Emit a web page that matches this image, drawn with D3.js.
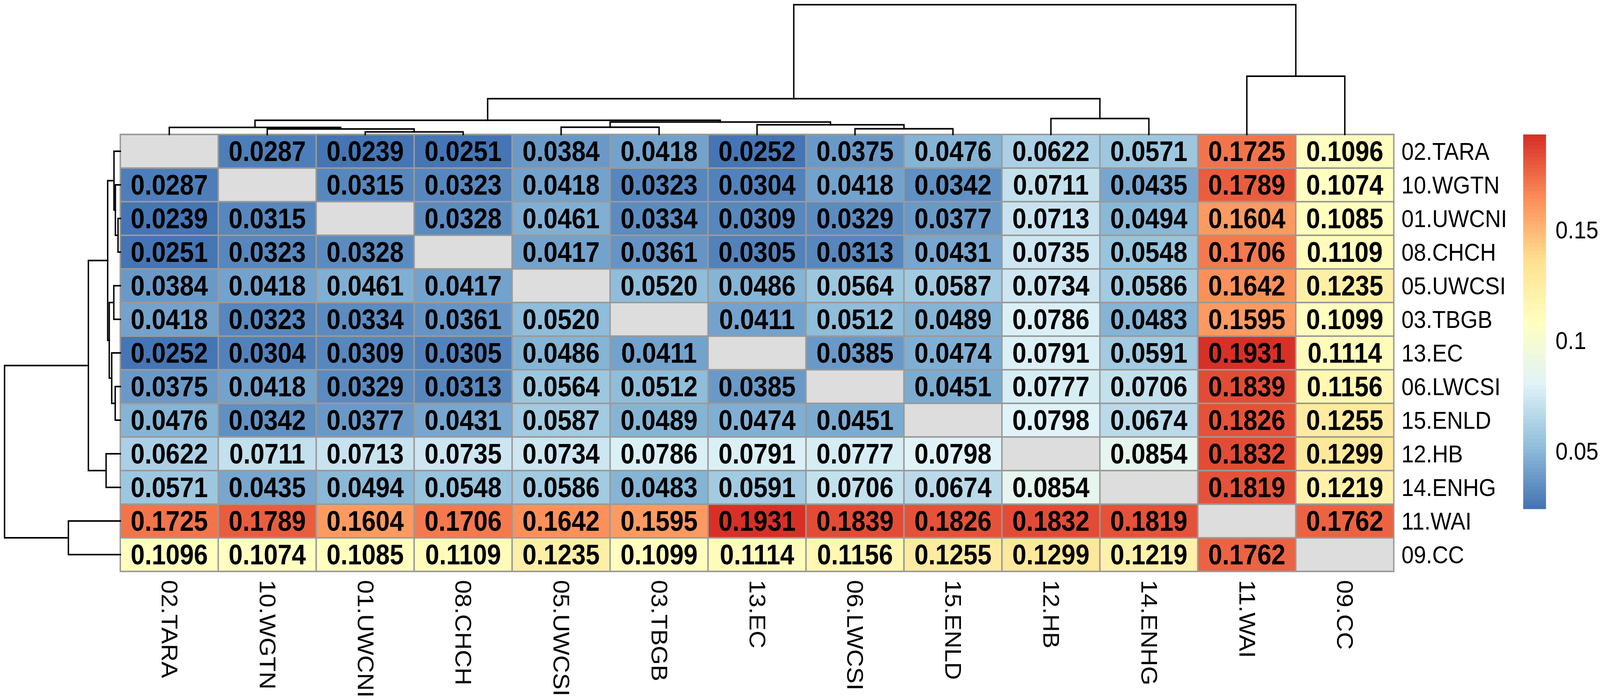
<!DOCTYPE html>
<html>
<head>
<meta charset="utf-8">
<script src="https://cdn.jsdelivr.net/npm/d3@7"></script>
<style>
html,body{margin:0;padding:0;background:#ffffff;overflow:hidden;width:100%;height:100%;}
svg{display:block;width:100vw;height:100vh;}
</style>
</head>
<body>
<script>
// ---------------- DATA ----------------
const sites = ["02.TARA","10.WGTN","01.UWCNI","08.CHCH","05.UWCSI","03.TBGB","13.EC","06.LWCSI","15.ENLD","12.HB","14.ENHG","11.WAI","09.CC"];

// pairwise values, rows in the same order as `sites` (null = diagonal / NA)
const fstRows = [
  [null,   0.0287, 0.0239, 0.0251, 0.0384, 0.0418, 0.0252, 0.0375, 0.0476, 0.0622, 0.0571, 0.1725, 0.1096],
  [0.0287, null,   0.0315, 0.0323, 0.0418, 0.0323, 0.0304, 0.0418, 0.0342, 0.0711, 0.0435, 0.1789, 0.1074],
  [0.0239, 0.0315, null,   0.0328, 0.0461, 0.0334, 0.0309, 0.0329, 0.0377, 0.0713, 0.0494, 0.1604, 0.1085],
  [0.0251, 0.0323, 0.0328, null,   0.0417, 0.0361, 0.0305, 0.0313, 0.0431, 0.0735, 0.0548, 0.1706, 0.1109],
  [0.0384, 0.0418, 0.0461, 0.0417, null,   0.0520, 0.0486, 0.0564, 0.0587, 0.0734, 0.0586, 0.1642, 0.1235],
  [0.0418, 0.0323, 0.0334, 0.0361, 0.0520, null,   0.0411, 0.0512, 0.0489, 0.0786, 0.0483, 0.1595, 0.1099],
  [0.0252, 0.0304, 0.0309, 0.0305, 0.0486, 0.0411, null,   0.0385, 0.0474, 0.0791, 0.0591, 0.1931, 0.1114],
  [0.0375, 0.0418, 0.0329, 0.0313, 0.0564, 0.0512, 0.0385, null,   0.0451, 0.0777, 0.0706, 0.1839, 0.1156],
  [0.0476, 0.0342, 0.0377, 0.0431, 0.0587, 0.0489, 0.0474, 0.0451, null,   0.0798, 0.0674, 0.1826, 0.1255],
  [0.0622, 0.0711, 0.0713, 0.0735, 0.0734, 0.0786, 0.0791, 0.0777, 0.0798, null,   0.0854, 0.1832, 0.1299],
  [0.0571, 0.0435, 0.0494, 0.0548, 0.0586, 0.0483, 0.0591, 0.0706, 0.0674, 0.0854, null,   0.1819, 0.1219],
  [0.1725, 0.1789, 0.1604, 0.1706, 0.1642, 0.1595, 0.1931, 0.1839, 0.1826, 0.1832, 0.1819, null,   0.1762],
  [0.1096, 0.1074, 0.1085, 0.1109, 0.1235, 0.1099, 0.1114, 0.1156, 0.1255, 0.1299, 0.1219, 0.1762, null  ]
];

// hierarchical clustering (same tree for rows and columns): children and merge heights
// children: site names or "m<k>" for the k-th merge (0-based)
const mergeLeft   = ["01.UWCNI", "06.LWCSI", "10.WGTN", "02.TARA", "05.UWCSI", "13.EC", "m4",  "m3",  "12.HB",   "m7",  "11.WAI", "m9"];
const mergeRight  = ["08.CHCH",  "15.ENLD",  "m0",      "m2",      "03.TBGB",  "m1",    "m5",  "m6",  "14.ENHG", "m8",  "09.CC",  "m10"];
const mergeHeight = [0.0065,     0.0145,     0.0140,    0.0180,    0.0185,     0.0245,  0.0315, 0.0360, 0.0405,  0.0910, 0.1480,  0.3300];

// colour palette (rev RdYlBu, 7 classes) and legend ticks
const paletteStops = ["#4575B4","#91BFDB","#E0F3F8","#FFFFBF","#FEE090","#FC8D59","#D73027"];
const legendTicks = [0.05, 0.1, 0.15];
const legendTickLabels = ["0.05", "0.1", "0.15"];
const naColor = "#DDDDDD";

// ---------------- LAYOUT ----------------
const W = 4562, H = 1791;
const gridLeft = 343, gridRight = 3974, gridTop = 344, gridBottom = 1462;
const treeTopEdge = 12, treeLeftEdge = 13;
const legendX = 4343, legendW = 65, legendTop = 344, legendH = 958;
const font = "'Liberation Sans', Arial, Helvetica, sans-serif";

const svg = d3.select("body").append("svg")
  .attr("viewBox", `0 0 ${W} ${H}`)
  .attr("preserveAspectRatio", "none");
svg.append("rect").attr("width", W).attr("height", H).attr("fill", "#fff");

const xBand = d3.scaleBand().domain(sites).range([gridLeft, gridRight]).padding(0);
const yBand = d3.scaleBand().domain(sites).range([gridTop, gridBottom]).padding(0);

// colour mapping: 100 colours, breaks from min to max
const allVals = fstRows.flat().filter(v => v !== null);
const vMin = d3.min(allVals), vMax = d3.max(allVals);
const nCol = 100;
const ramp = d3.scaleLinear()
  .domain(paletteStops.map((_, i) => i / (paletteStops.length - 1)))
  .range(paletteStops)
  .interpolate(d3.interpolateRgb);
const colours = d3.range(nCol).map(k => ramp(k / (nCol - 1)));
const binScale = d3.scaleLinear().domain([vMin, vMax]).range([0, nCol]);
function colourOf(v) {
  if (v === null) return naColor;
  let k = Math.floor(binScale(v));
  k = Math.max(0, Math.min(nCol - 1, k));
  return colours[k];
}

// ---------------- CELLS ----------------
const cells = [];
fstRows.forEach((row, i) => row.forEach((v, j) => cells.push({r: sites[i], c: sites[j], v})));

const gCells = svg.append("g");
gCells.selectAll("rect").data(cells).enter().append("rect")
  .attr("x", d => xBand(d.c))
  .attr("y", d => yBand(d.r))
  .attr("width", xBand.bandwidth())
  .attr("height", yBand.bandwidth())
  .attr("fill", d => colourOf(d.v))
  .attr("stroke", "#9a9a9a")
  .attr("stroke-width", 4);

gCells.selectAll("text").data(cells.filter(d => d.v !== null)).enter().append("text")
  .attr("x", d => xBand(d.c) + xBand.bandwidth() / 2)
  .attr("y", d => yBand(d.r) + yBand.bandwidth() / 2)
  .attr("text-anchor", "middle")
  .attr("dominant-baseline", "central")
  .attr("font-family", font)
  .attr("font-weight", "bold")
  .attr("font-size", 72)
  .attr("fill", "#000")
  .text(d => d.v.toFixed(4));

// ---------------- LABELS ----------------
svg.append("g").selectAll("text").data(sites).enter().append("text")
  .attr("x", gridRight + 22)
  .attr("y", d => yBand(d) + yBand.bandwidth() / 2)
  .attr("dominant-baseline", "central")
  .attr("font-family", font)
  .attr("font-size", 63)
  .attr("fill", "#000")
  .text(d => d);

svg.append("g").selectAll("text").data(sites).enter().append("text")
  .attr("transform", d => `translate(${xBand(d) + xBand.bandwidth() / 2},${gridBottom + 22}) rotate(90)`)
  .attr("dominant-baseline", "central")
  .attr("font-family", font)
  .attr("font-size", 63)
  .attr("fill", "#000")
  .text(d => d);

// ---------------- DENDROGRAMS ----------------
const rootH = d3.max(mergeHeight);
function buildNodes(band) {
  const nodes = {};
  sites.forEach(s => nodes[s] = {pos: band(s) + band.bandwidth() / 2, h: 0});
  const links = [];
  mergeLeft.forEach((a, k) => {
    const L = nodes[a], R = nodes[mergeRight[k]];
    const node = {pos: (L.pos + R.pos) / 2, h: mergeHeight[k]};
    nodes["m" + k] = node;
    links.push({L, R, h: mergeHeight[k]});
  });
  return links;
}

const topH = d3.scaleLinear().domain([0, rootH]).range([gridTop, treeTopEdge]);
const leftH = d3.scaleLinear().domain([0, rootH]).range([gridLeft, treeLeftEdge]);

svg.append("g").selectAll("path").data(buildNodes(xBand)).enter().append("path")
  .attr("d", d => `M${d.L.pos},${topH(d.L.h)}V${topH(d.h)}H${d.R.pos}V${topH(d.R.h)}`)
  .attr("fill", "none").attr("stroke", "#000").attr("stroke-width", 4)
  .attr("stroke-linecap", "square");

svg.append("g").selectAll("path").data(buildNodes(yBand)).enter().append("path")
  .attr("d", d => `M${leftH(d.L.h)},${d.L.pos}H${leftH(d.h)}V${d.R.pos}H${leftH(d.R.h)}`)
  .attr("fill", "none").attr("stroke", "#000").attr("stroke-width", 4)
  .attr("stroke-linecap", "square");

// ---------------- LEGEND ----------------
const legY = d3.scaleLinear().domain([vMin, vMax]).range([legendTop + legendH, legendTop]);
const gLeg = svg.append("g");
const step = (vMax - vMin) / nCol;
gLeg.selectAll("rect").data(colours).enter().append("rect")
  .attr("x", legendX)
  .attr("y", (c, k) => legY(vMin + (k + 1) * step))
  .attr("width", legendW)
  .attr("height", (c, k) => legY(vMin + k * step) - legY(vMin + (k + 1) * step) + 0.6)
  .attr("fill", c => c);

gLeg.selectAll("text").data(legendTicks).enter().append("text")
  .attr("x", legendX + legendW + 27)
  .attr("y", d => legY(d))
  .attr("dominant-baseline", "central")
  .attr("font-family", font)
  .attr("font-size", 63)
  .attr("fill", "#000")
  .text((d, i) => legendTickLabels[i]);
</script>
</body>
</html>
